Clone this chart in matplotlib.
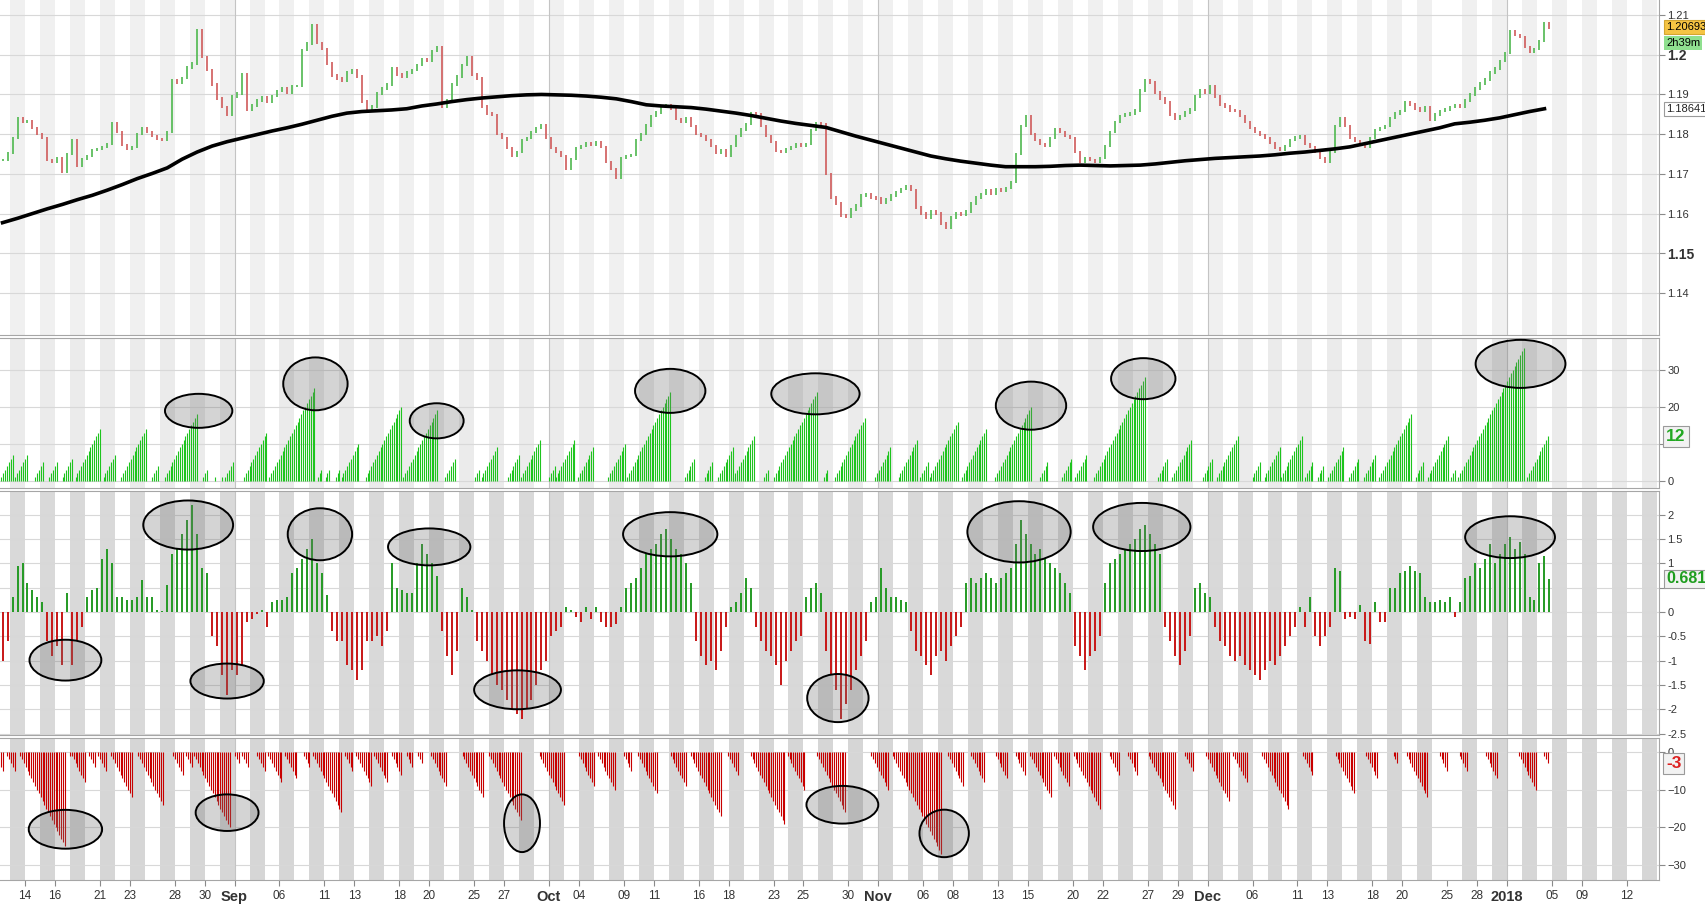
import matplotlib.pyplot as plt
import matplotlib.transforms as mtransforms
from matplotlib.patches import Ellipse
import numpy as np
import pandas as pd

plt.rcParams['font.family'] = ['Liberation Sans', 'DejaVu Sans']

# trading days; Dec 25 and Jan 1 have no bars, the day shading skips only Jan 1
cal = pd.bdate_range('2017-08-10', '2018-01-16').drop(pd.Timestamp('2018-01-01'))
days = cal.drop(pd.Timestamp('2017-12-25'))
day0 = days.get_loc(pd.Timestamp('2017-08-14'))     # x = 0 is the start of 14 Aug
cal0 = cal.get_loc(pd.Timestamp('2017-08-14'))

tick_dates = ['2017-08-14', '2017-08-16', '2017-08-21', '2017-08-23', '2017-08-28', '2017-08-30',
              '2017-09-01', '2017-09-06', '2017-09-11', '2017-09-13', '2017-09-18', '2017-09-20',
              '2017-09-25', '2017-09-27', '2017-10-02', '2017-10-04', '2017-10-09', '2017-10-11',
              '2017-10-16', '2017-10-18', '2017-10-23', '2017-10-25', '2017-10-30', '2017-11-01',
              '2017-11-06', '2017-11-08', '2017-11-13', '2017-11-15', '2017-11-20', '2017-11-22',
              '2017-11-27', '2017-11-29', '2017-12-01', '2017-12-06', '2017-12-11', '2017-12-13',
              '2017-12-18', '2017-12-20', '2017-12-26', '2017-12-28', '2018-01-02', '2018-01-05',
              '2018-01-09', '2018-01-12']
tick_labels = ['14', '16', '21', '23', '28', '30',
               'Sep', '06', '11', '13', '18', '20', '25', '27',
               'Oct', '04', '09', '11', '16', '18', '23', '25', '30',
               'Nov', '06', '08', '13', '15', '20', '22', '27', '29',
               'Dec', '06', '11', '13', '18', '20', '25', '28',
               '2018', '05', '09', '12']
month_labels = ['Sep', 'Oct', 'Nov', 'Dec', '2018']

# price: three closes per trading day, first one at x = -1.5
closes = [
    1.1735, 1.1752, 1.1790, 1.1840, 1.1830, 1.1832, 1.1815, 1.1800, 1.1790, 1.1735, 1.1730, 1.1740, 1.1705, 1.1750,
    1.1785, 1.1720, 1.1738, 1.1745, 1.1760, 1.1762, 1.1768, 1.1775, 1.1828, 1.1805, 1.1772, 1.1762, 1.1768, 1.1800, 1.1815,
    1.1805, 1.1795, 1.1788, 1.1785, 1.1805, 1.1935, 1.1930, 1.1942, 1.1968, 1.1978, 1.2062, 1.1995, 1.1962, 1.1925, 1.1890,
    1.1868, 1.1848, 1.1895, 1.1902, 1.1950, 1.1862, 1.1872, 1.1885, 1.1893, 1.1882, 1.1896, 1.1908, 1.1915, 1.1905, 1.1922,
    1.1922, 1.2012, 1.2028, 1.2075, 1.2030, 1.2015, 1.1978, 1.1948, 1.1940, 1.1935, 1.1955, 1.1962, 1.1945, 1.1882, 1.1865,
    1.1870, 1.1902, 1.1915, 1.1925, 1.1965, 1.1950, 1.1945, 1.1955, 1.1962, 1.1975, 1.1990, 1.1985, 1.2010, 1.2018, 1.1870,
    1.1885, 1.1925, 1.1945, 1.1975, 1.1995, 1.1950, 1.1940, 1.1870, 1.1852, 1.1848, 1.1800, 1.1790, 1.1765, 1.1745, 1.1755,
    1.1785, 1.1790, 1.1805, 1.1815, 1.1822, 1.1790, 1.1765, 1.1755, 1.1745, 1.1712, 1.1738, 1.1765, 1.1770, 1.1778, 1.1772,
    1.1780, 1.1768, 1.1730, 1.1712, 1.1690, 1.1740, 1.1745, 1.1748, 1.1785, 1.1800, 1.1822, 1.1845, 1.1855, 1.1868, 1.1872,
    1.1865, 1.1838, 1.1832, 1.1840, 1.1820, 1.1800, 1.1795, 1.1785, 1.1770, 1.1752, 1.1760, 1.1745, 1.1770, 1.1795, 1.1812,
    1.1825, 1.1852, 1.1850, 1.1820, 1.1795, 1.1780, 1.1758, 1.1755, 1.1762, 1.1768, 1.1775, 1.1770, 1.1775, 1.1810, 1.1828,
    1.1825, 1.1700, 1.1640, 1.1625, 1.1595, 1.1592, 1.1610, 1.1620, 1.1645, 1.1648, 1.1640, 1.1638, 1.1628, 1.1635, 1.1645,
    1.1655, 1.1662, 1.1668, 1.1660, 1.1615, 1.1600, 1.1590, 1.1605, 1.1600, 1.1575, 1.1565, 1.1590, 1.1600, 1.1598, 1.1605,
    1.1625, 1.1640, 1.1650, 1.1660, 1.1650, 1.1662, 1.1658, 1.1665, 1.1680, 1.1750, 1.1820, 1.1845, 1.1800, 1.1785, 1.1775,
    1.1770, 1.1790, 1.1812, 1.1805, 1.1795, 1.1790, 1.1755, 1.1730, 1.1740, 1.1735, 1.1730, 1.1740, 1.1770, 1.1805, 1.1830,
    1.1845, 1.1850, 1.1852, 1.1860, 1.1910, 1.1935, 1.1930, 1.1905, 1.1890, 1.1880, 1.1850, 1.1838, 1.1845, 1.1855, 1.1862,
    1.1895, 1.1910, 1.1905, 1.1920, 1.1895, 1.1875, 1.1870, 1.1860, 1.1858, 1.1845, 1.1830, 1.1815, 1.1805, 1.1798, 1.1790,
    1.1778, 1.1765, 1.1760, 1.1770, 1.1785, 1.1792, 1.1795, 1.1775, 1.1768, 1.1755, 1.1740, 1.1730, 1.1755, 1.1820, 1.1840,
    1.1820, 1.1790, 1.1782, 1.1775, 1.1768, 1.1790, 1.1810, 1.1815, 1.1820, 1.1840, 1.1852, 1.1858, 1.1880, 1.1875, 1.1865,
    1.1860, 1.1868, 1.1835, 1.1850, 1.1858, 1.1862, 1.1868, 1.1872, 1.1870, 1.1885, 1.1900, 1.1915, 1.1928, 1.1938, 1.1955,
    1.1965, 1.1985, 1.2005, 1.2060, 1.2050, 1.2045, 1.2020, 1.2008, 1.2015, 1.2035, 1.2080, 1.2069,
]

# long moving average, one value per day, first one at x = -1.5
ma = [
    1.1577, 1.1588, 1.1600, 1.1612, 1.1623, 1.1635, 1.1646, 1.1659, 1.1673, 1.1688,
    1.1701, 1.1715, 1.1737, 1.1755, 1.1770, 1.1781, 1.1790, 1.1799, 1.1808, 1.1816,
    1.1825, 1.1835, 1.1845, 1.1853, 1.1857, 1.1859, 1.1861, 1.1864, 1.1871, 1.1876,
    1.1882, 1.1887, 1.1891, 1.1894, 1.1897, 1.1899, 1.1900, 1.1899, 1.1898, 1.1896,
    1.1893, 1.1889, 1.1882, 1.1874, 1.1871, 1.1869, 1.1867, 1.1863, 1.1858, 1.1853,
    1.1847, 1.1840, 1.1833, 1.1827, 1.1822, 1.1817, 1.1806, 1.1795, 1.1785, 1.1775,
    1.1765, 1.1755, 1.1745, 1.1738, 1.1732, 1.1727, 1.1722, 1.1718, 1.1718, 1.1718,
    1.1719, 1.1721, 1.1722, 1.1721, 1.1720, 1.1721, 1.1722, 1.1725, 1.1729, 1.1733,
    1.1736, 1.1739, 1.1741, 1.1743, 1.1745, 1.1748, 1.1752, 1.1755, 1.1759, 1.1763,
    1.1768, 1.1776, 1.1784, 1.1792, 1.1800, 1.1808, 1.1816, 1.1826, 1.1830, 1.1835,
    1.1841, 1.1849, 1.1857, 1.1864,
]
last_price = 1.20693
last_ma = 1.18641
time_left = '2h39m'

# up-count runs: day where each run ends and its top count (one bar per 1/8 day)
up_end = [-0.82, 0.11, 1.2, 2.13, 3.13, 5.0, 6.0, 8.07, 8.87, 11.47, 12.13, 12.67, 13.13, 13.87,
          16.13, 19.33, 19.8, 20.33, 21.0, 22.27, 25.13, 27.53, 28.7, 30.3, 31.5, 33.0, 34.4, 35.4,
          36.7, 37.95, 40.1, 43.1, 44.7, 45.9, 47.3, 48.7, 49.6, 52.9, 53.6, 56.1, 57.8, 59.6, 60.3,
          62.3, 64.2, 67.2, 68.3, 69.9, 70.9, 74.8, 76.3, 77.9, 79.3, 81.0, 82.5, 83.8, 85.27, 86.0,
          86.73, 88.07, 89.07, 90.2, 92.6, 93.4, 95.07, 95.53, 100.13, 101.73]
up_top = [7, 7, 5, 5, 6, 14, 7, 14, 4, 18, 3, 1, 1, 5,
          13, 25, 3, 3, 3, 10, 20, 19, 6, 3, 9, 7, 11, 4,
          11, 9, 10, 24, 6, 5, 9, 12, 3, 24, 3, 17, 9, 11, 5,
          16, 14, 20, 5, 6, 7, 28, 6, 11, 6, 12, 5, 9, 12, 5,
          4, 9, 6, 7, 18, 5, 12, 3, 36, 12]
up_now = 12

# oscillator, three values per trading day, first one at x = -1.5
osc = [
    -1.0, -0.6, 0.3, 0.95, 1.0, 0.6, 0.45, 0.3, 0.2, -0.6, -0.9, -0.7, -1.1, 0.4,
    -1.1, -0.6, -0.3, 0.3, 0.45, 0.5, 1.1, 1.3, 1.0, 0.3, 0.3, 0.25, 0.25, 0.3, 0.65,
    0.3, 0.3, 0.05, 0.02, 0.55, 1.2, 1.3, 1.6, 1.9, 2.2, 1.6, 0.9, 0.8, -0.5, -0.7,
    -1.3, -1.7, -1.2, -1.3, -1.1, -0.2, -0.15, -0.05, 0.05, -0.3, 0.2, 0.25, 0.25, 0.3, 0.8,
    0.9, 1.1, 1.3, 1.5, 1.0, 0.8, 0.35, -0.4, -0.6, -0.6, -1.1, -1.2, -1.4, -1.2, -0.6,
    -0.6, -0.5, -0.7, -0.4, 1.0, 0.5, 0.45, 0.4, 0.4, 1.0, 1.4, 1.2, 1.0, 0.75, -0.4,
    -0.9, -1.3, -0.8, 0.5, 0.3, 0.05, -0.6, -0.8, -1.0, -1.3, -1.5, -1.6, -1.8, -2.0, -2.1,
    -2.2, -2.0, -1.8, -1.5, -1.2, -1.0, -0.5, -0.4, -0.3, 0.1, 0.05, -0.1, -0.2, 0.1, -0.15,
    0.1, -0.2, -0.3, -0.3, -0.25, 0.1, 0.5, 0.6, 0.7, 0.9, 1.2, 1.3, 1.4, 1.6, 1.7,
    1.5, 1.3, 1.2, 1.0, 0.6, -0.6, -0.9, -1.1, -1.0, -1.2, -0.8, -0.3, 0.1, 0.2, 0.4,
    0.7, 0.5, -0.3, -0.6, -0.8, -0.9, -1.1, -1.5, -1.0, -0.8, -0.6, -0.5, 0.3, 0.5, 0.6,
    0.4, -0.8, -1.3, -1.6, -2.2, -1.9, -1.6, -1.2, -0.9, -0.6, 0.2, 0.3, 0.9, 0.5, 0.3,
    0.3, 0.25, 0.2, -0.4, -0.8, -0.9, -1.1, -1.3, -0.9, -0.8, -1.0, -0.7, -0.5, -0.3, 0.6,
    0.7, 0.6, 0.7, 0.8, 0.7, 0.6, 0.7, 0.8, 0.9, 1.4, 1.9, 1.6, 1.4, 1.2, 1.3,
    1.1, 1.0, 0.9, 0.8, 0.6, 0.4, -0.7, -0.9, -1.2, -0.9, -0.8, -0.5, 0.6, 1.0, 1.1,
    1.2, 1.3, 1.4, 1.5, 1.7, 1.8, 1.6, 1.4, 1.2, -0.3, -0.6, -0.9, -1.1, -0.8, -0.5,
    0.5, 0.6, 0.4, 0.3, -0.3, -0.6, -0.7, -0.9, -1.0, -0.9, -1.1, -1.2, -1.3, -1.4, -1.2,
    -1.0, -1.1, -0.9, -0.7, -0.5, -0.3, 0.1, -0.3, 0.3, -0.5, -0.7, -0.5, -0.3, 0.9, 0.85,
    -0.15, -0.1, -0.15, 0.15, -0.6, -0.65, 0.2, -0.2, -0.2, 0.5, 0.5, 0.8, 0.85, 0.95, 0.85,
    0.8, 0.3, 0.2, 0.2, 0.25, 0.2, 0.3, -0.1, 0.2, 0.7, 0.75, 1.0, 0.9, 1.1, 1.4,
    1.0, 1.2, 1.4, 1.55, 1.3, 1.45, 1.2, 0.3, 0.25, 1.0, 1.15, 0.68,
]
osc_now = 0.681

# down-count runs: day where each run ends and its lowest count
dn_end = [-1.49, -0.67, 2.67, 3.0, 4.0, 4.67, 5.4, 7.13, 9.2, 10.53, 11.13, 13.67, 14.27, 14.87,
          16.0, 17.13, 18.13, 19.0, 21.13, 21.87, 23.13, 24.2, 25.13, 25.87, 26.53, 28.13, 30.6,
          33.13, 36.0, 38.0, 39.4, 40.5, 42.2, 44.13, 46.47, 47.6, 50.73, 52.07, 54.8, 57.67, 61.2,
          62.67, 64.07, 65.6, 66.8, 68.53, 69.73, 71.8, 73.07, 74.3, 76.8, 78.0, 80.4, 81.6, 84.4,
          86.0, 88.8, 90.33, 91.67, 93.67, 95.0, 96.33, 98.33, 100.93, 101.73]
dn_top = [-5, -5, -25, -1, -8, -4, -5, -12, -14, -6, -4, -20, -3, -4,
          -5, -8, -7, -4, -16, -5, -9, -8, -6, -4, -3, -9, -12,
          -18, -14, -9, -10, -5, -11, -9, -17, -6, -19, -10, -16, -10, -27,
          -9, -8, -7, -6, -12, -9, -15, -6, -6, -15, -5, -13, -8, -15,
          -6, -11, -7, -3, -12, -5, -5, -7, -10, -3]
dn_now = -3

# circled spots: (day, value, width in days, height in value units)
marks_up = [(11.6, 18.9, 4.5, 9.2), (19.4, 26.2, 4.3, 14.3), (27.5, 16.2, 3.6, 9.5),
            (43.1, 24.3, 4.7, 11.9), (52.8, 23.5, 5.9, 11.1), (67.2, 20.3, 4.7, 13.0),
            (74.7, 27.6, 4.3, 11.1), (99.9, 31.6, 6.0, 13.0)]
marks_osc = [(10.9, 1.79, 6.0, 1.01), (19.7, 1.60, 4.3, 1.07), (27.0, 1.34, 5.5, 0.76),
             (2.7, -0.99, 4.8, 0.84), (13.5, -1.42, 4.9, 0.72), (32.9, -1.60, 5.8, 0.80),
             (43.1, 1.60, 6.3, 0.91), (54.3, -1.77, 4.1, 0.99), (66.4, 1.65, 6.9, 1.26),
             (74.6, 1.75, 6.5, 0.99), (99.2, 1.54, 6.0, 0.86)]
marks_dn = [(2.7, -20.5, 4.9, 10.3), (13.5, -16.1, 4.2, 9.7), (33.2, -18.9, 2.4, 15.3),
            (54.6, -14.0, 4.8, 10.0), (61.4, -21.6, 3.3, 12.6)]


def runs_to_bars(ends, tops):
    xs, hs = [], []
    for end, top in zip(ends, tops):
        n = abs(top)
        sign = 1 if top > 0 else -1
        for j in range(1, n + 1):
            xs.append(end - (n - j) / 8)
            hs.append(sign * j)
    return np.array(xs), np.array(hs)


W, H = 1706, 907
fig = plt.figure(figsize=(W / 100, H / 100), dpi=100)


def panel(top, bottom):
    return fig.add_axes([0, 1 - bottom / H, 1659 / W, (bottom - top) / H])


ax1 = panel(0, 335)
ax2 = panel(338, 488)
ax3 = panel(491, 735)
ax4 = panel(738, 880)
axes = [ax1, ax2, ax3, ax4]
band_colors = ['#f0f0f0', '#ebebeb', '#d9d9d9', '#d6d6d6']

month_pos = [days.get_loc(pd.Timestamp(d)) - day0
             for d, lab in zip(tick_dates, tick_labels) if lab in month_labels]

for ax, bc in zip(axes, band_colors):
    ax.set_xlim(-1.67, 109.15)
    for day in days:
        x = days.get_loc(day) - day0
        if (cal.get_loc(day) - cal0) % 2 == 1:
            ax.axvspan(x, x + 1, fc=bc, lw=0, zorder=0)
    for m in month_pos:
        ax.axvline(m, color='#c4c4c4', lw=0.8, zorder=0.6)
    ax.set_axisbelow(True)
    ax.yaxis.grid(True, color='#d8d8d8', lw=0.8)
    ax.yaxis.tick_right()
    ax.tick_params(axis='y', direction='out', length=4, width=0.8, color='#8a8a8a',
                   labelsize=8, labelcolor='#333333', pad=2)
    ax.tick_params(axis='x', bottom=False, labelbottom=False)
    ax.spines['left'].set_visible(False)
    for s in ['top', 'bottom', 'right']:
        ax.spines[s].set_color('#a6a6a6')
ax1.spines['top'].set_visible(False)

# price candles and moving average
c = np.array(closes)
xp = -1.5 + np.arange(len(c)) / 3
o = np.r_[c[0], c[:-1]]
cols = np.where(c >= o, '#4fb84f', '#cf5a5a')
ax1.vlines(xp, np.minimum(o, c) - 0.0003, np.maximum(o, c) + 0.0003, colors=cols, lw=1.2, zorder=2)
ax1.plot(-1.5 + np.arange(len(ma)), ma, color='black', lw=2.6, zorder=3)
ax1.set_ylim(1.1294, 1.2138)
p_ticks = [1.14, 1.15, 1.16, 1.17, 1.18, 1.19, 1.20, 1.21]
ax1.set_yticks(p_ticks)
ax1.set_yticklabels(['1.14', '1.15', '1.16', '1.17', '1.18', '1.19', '1.2', '1.21'])
for t in ax1.get_yticklabels():
    if t.get_text() in ('1.15', '1.2'):
        t.set_fontweight('bold')
        t.set_fontsize(10)

# up count (the 10 label sits under the current-value box)
xu, hu = runs_to_bars(up_end, up_top)
ax2.vlines(xu, 0, hu, colors='#1ec41e', lw=0.8, zorder=2)
ax2.set_ylim(-1.97, 38.6)
ax2.set_yticks([0, 10, 20, 30])
ax2.set_yticklabels(['0', '', '20', '30'])

# oscillator
ov = np.array(osc)
xo = -1.5 + np.arange(len(ov)) / 3
ax3.vlines(xo, 0, ov, colors=np.where(ov >= 0, '#249a24', '#c81616'), lw=1.4, zorder=2)
ax3.set_ylim(-2.53, 2.49)
ax3.set_yticks([-2.5, -2, -1.5, -1, -0.5, 0, 0.5, 1, 1.5, 2])
ax3.set_yticklabels(['-2.5', '-2', '-1.5', '-1', '-0.5', '0', '', '1', '1.5', '2'])

# down count
xd, hd = runs_to_bars(dn_end, dn_top)
ax4.vlines(xd, 0, hd, colors='#c80000', lw=0.8, zorder=2)
ax4.set_ylim(-33.95, 3.7)
ax4.set_yticks([-30, -20, -10, 0])

# date axis
ax4.set_xticks([days.get_loc(pd.Timestamp(d)) - day0 for d in tick_dates])
ax4.set_xticklabels(tick_labels)
ax4.tick_params(axis='x', bottom=True, labelbottom=True, length=4, color='#8a8a8a',
                labelsize=8.5, labelcolor='#333333', pad=3)
for t in ax4.get_xticklabels():
    if t.get_text() in month_labels:
        t.set_fontweight('bold')
        t.set_fontsize(10.5)

# circles
for ax, marks in [(ax2, marks_up), (ax3, marks_osc), (ax4, marks_dn)]:
    for x, y, w, h in marks:
        ax.add_patch(Ellipse((x, y), w, h, fc=(0.45, 0.45, 0.45, 0.3), ec='black', lw=1.4, zorder=6))


# value boxes on the right axis
def side_box(ax, y, text, color, face, edge, size, weight='normal', dy=0, pad=0.18):
    tr = mtransforms.blended_transform_factory(ax.transAxes, ax.transData)
    tr = tr + mtransforms.ScaledTranslation(0, dy / 72, fig.dpi_scale_trans)
    ax.text(1.0042, y, text, transform=tr, color=color, fontsize=size, fontweight=weight,
            va='center', ha='left', zorder=10, clip_on=False,
            bbox=dict(boxstyle=f'square,pad={pad}', fc=face, ec=edge, lw=0.8))


side_box(ax1, last_price, f'{last_price:.5f}', 'black', '#f5c443', '#d2a531', 8)
side_box(ax1, last_price, time_left, 'black', '#8fe08f', 'none', 8, dy=-11.5)
side_box(ax1, last_ma, f'{last_ma:.5f}', '#222222', 'white', '#9a9a9a', 8)
side_box(ax2, up_now, str(up_now), '#22a822', '#f2f2f2', '#9a9a9a', 12.5, 'bold')
side_box(ax3, osc_now, f'{osc_now:.3f}', '#1f9d1f', '#f2f2f2', '#9a9a9a', 11.5, 'bold', pad=0.1)
side_box(ax4, dn_now, str(dn_now), '#dd2020', '#f2f2f2', '#9a9a9a', 12.5, 'bold')

fig.savefig('out.png', dpi=100, facecolor='white')
